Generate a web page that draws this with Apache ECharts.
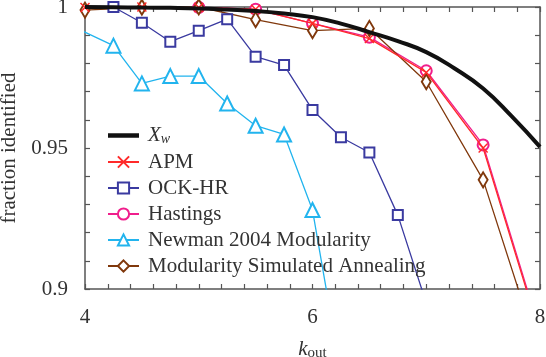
<!DOCTYPE html>
<html>
<head>
<meta charset="utf-8">
<script src="https://cdn.jsdelivr.net/npm/echarts@6/dist/echarts.min.js"></script>
<style>
  html, body { margin: 0; padding: 0; background: #fff; }
  #chart { width: 546px; height: 357px; }
</style>
</head>
<body>
<div id="chart"></div>
<script>
// 数据 (x = k_out, y = fraction identified)
var xwX = [4, 4.25, 4.5, 4.75, 5, 5.25, 5.5, 5.75, 6, 6.25, 6.5, 6.75, 7, 7.25, 7.5, 7.75, 8];
var xwY = [1.0, 0.9999, 0.9998, 0.9997, 0.9995, 0.9991, 0.9986, 0.9977, 0.9964, 0.9941, 0.9911, 0.9879, 0.9840, 0.9782, 0.9711, 0.9613, 0.9504];

var apmX = [4, 4.5, 5, 5.5, 6, 6.5, 7, 7.5, 8];
var apmY = [0.9998, 1.0, 0.9998, 0.9992, 0.9942, 0.9888, 0.9768, 0.9500, 0.884];

var ockX = [4.25, 4.5, 4.75, 5, 5.25, 5.5, 5.75, 6, 6.25, 6.5, 6.75, 7];
var ockY = [1.0, 0.9944, 0.9877, 0.9916, 0.9957, 0.9824, 0.9794, 0.9635, 0.9538, 0.9484, 0.9262, 0.895];

var hastX = [5, 5.5, 6, 6.5, 7, 7.5, 8];
var hastY = [0.9999, 0.9992, 0.9942, 0.9893, 0.9774, 0.9511, 0.885];

var newmanX = [3.75, 4.25, 4.5, 4.75, 5, 5.25, 5.5, 5.75, 6, 6.25];
var newmanY = [0.9958, 0.9863, 0.9729, 0.9755, 0.9755, 0.9658, 0.9579, 0.9548, 0.9280, 0.870];

var saX = [4, 4.5, 5, 5.5, 6, 6.5, 7, 7.5, 8];
var saY = [0.9989, 0.9999, 1.0, 0.9955, 0.9916, 0.9924, 0.9735, 0.9387, 0.876];

var xTickLabels = [4, 6, 8];
var yTickLabels = [0.9, 0.95, 1];

function zip(xs, ys) {
    var out = [];
    for (var i = 0; i < xs.length; i++) out.push([xs[i], ys[i]]);
    return out;
}
function isLabel(v, list) {
    for (var i = 0; i < list.length; i++) {
        if (Math.abs(v - list[i]) < 1e-6) return true;
    }
    return false;
}

var FONT = 'Liberation Serif';
var FS = 21;
var TXT = '#333333';
var AX = '#555555';

var chart = echarts.init(document.getElementById('chart'));

var axisCommon = {
    axisLine: { show: true, lineStyle: { color: AX, width: 1.5 } },
    axisTick: { show: true, inside: true, length: 5, lineStyle: { color: AX, width: 1.2 } },
    splitLine: { show: false }
};

var xCross = 'path://M0,0L10,10M10,0L0,10';

chart.setOption({
    animation: false,
    grid: { left: 85, right: 6, top: 7, bottom: 68, containLabel: false, outerBoundsMode: 'none' },
    legend: {
        orient: 'vertical',
        left: 102,
        top: 120,
        itemWidth: 31,
        itemHeight: 14,
        itemGap: 5,
        textStyle: {
            fontFamily: FONT, fontSize: FS, color: TXT, padding: [0, 0, 0, 4],
            rich: {
                i: { fontFamily: FONT, fontStyle: 'italic', fontSize: FS, color: TXT },
                s: { fontFamily: FONT, fontStyle: 'italic', fontSize: 14, color: TXT, padding: [8, 0, 0, 0] }
            }
        },
        formatter: function (name) {
            return name === 'Xw' ? '{i|X}{s|w}' : name;
        },
        data: [
            { name: 'Xw', icon: 'path://M0,0L31,0L31,4.5L0,4.5Z', itemStyle: { color: '#111111' } },
            'APM', 'OCK-HR', 'Hastings', 'Newman 2004 Modularity', 'Modularity Simulated Annealing'
        ]
    },
    xAxis: [
        Object.assign({}, axisCommon, {
            type: 'value', min: 4, max: 8, interval: 0.2,
            name: '{k|k}{s|out}',
            nameLocation: 'middle',
            nameGap: 48,
            nameTextStyle: {
                rich: {
                    k: { fontFamily: FONT, fontStyle: 'italic', fontSize: FS, color: TXT },
                    s: { fontFamily: FONT, fontSize: 15, color: TXT, padding: [9, 0, 0, 0] }
                }
            },
            axisLabel: {
                margin: 18, fontFamily: FONT, fontSize: FS, color: TXT,
                formatter: function (v) { return isLabel(v, xTickLabels) ? String(Math.round(v)) : ''; }
            }
        }),
        Object.assign({}, axisCommon, {
            type: 'value', min: 4, max: 8, interval: 0.2, position: 'top',
            axisLabel: { show: false }
        })
    ],
    yAxis: [
        Object.assign({}, axisCommon, {
            type: 'value', min: 0.9, max: 1, interval: 0.01,
            name: 'fraction identified',
            nameLocation: 'middle',
            nameGap: 62,
            nameTextStyle: { fontFamily: FONT, fontSize: FS, color: TXT },
            axisLabel: {
                margin: 17, fontFamily: FONT, fontSize: FS, color: TXT,
                formatter: function (v) {
                    if (!isLabel(v, yTickLabels)) return '';
                    return String(Math.round(v * 100) / 100);
                }
            }
        }),
        Object.assign({}, axisCommon, {
            type: 'value', min: 0.9, max: 1, interval: 0.01, position: 'right',
            axisLabel: { show: false }
        })
    ],
    series: [
        {
            name: 'Xw', type: 'line', smooth: true, showSymbol: false, symbol: 'none',
            lineStyle: { color: '#111111', width: 4 },
            itemStyle: { color: '#111111' },
            data: zip(xwX, xwY), z: 10
        },
        {
            name: 'APM', type: 'line', symbol: xCross, symbolSize: 9, z: 4,
            lineStyle: { color: '#ff2a2a', width: 1.3 },
            itemStyle: { color: '#ff2a2a', borderColor: '#ff2a2a', borderWidth: 1.5 },
            data: zip(apmX, apmY)
        },
        {
            name: 'OCK-HR', type: 'line', symbol: 'emptyRect', symbolSize: 10,
            lineStyle: { color: '#3a3aa0', width: 1.3 },
            itemStyle: { color: '#3a3aa0', borderWidth: 1.3 },
            data: zip(ockX, ockY)
        },
        {
            name: 'Hastings', type: 'line', symbol: 'emptyCircle', symbolSize: 11,
            lineStyle: { color: '#f01e8c', width: 1.3 },
            itemStyle: { color: '#f01e8c', borderWidth: 1.3 },
            data: zip(hastX, hastY)
        },
        {
            name: 'Newman 2004 Modularity', type: 'line', symbol: 'emptyTriangle', symbolSize: 14,
            lineStyle: { color: '#22b4ee', width: 1.3 },
            itemStyle: { color: '#22b4ee', borderWidth: 1.3 },
            data: zip(newmanX, newmanY)
        },
        {
            name: 'Modularity Simulated Annealing', type: 'line', symbol: 'emptyDiamond', symbolSize: [9, 15],
            lineStyle: { color: '#80380c', width: 1.3 },
            itemStyle: { color: '#80380c', borderWidth: 1.3 },
            data: zip(saX, saY)
        }
    ]
});
</script>
</body>
</html>
